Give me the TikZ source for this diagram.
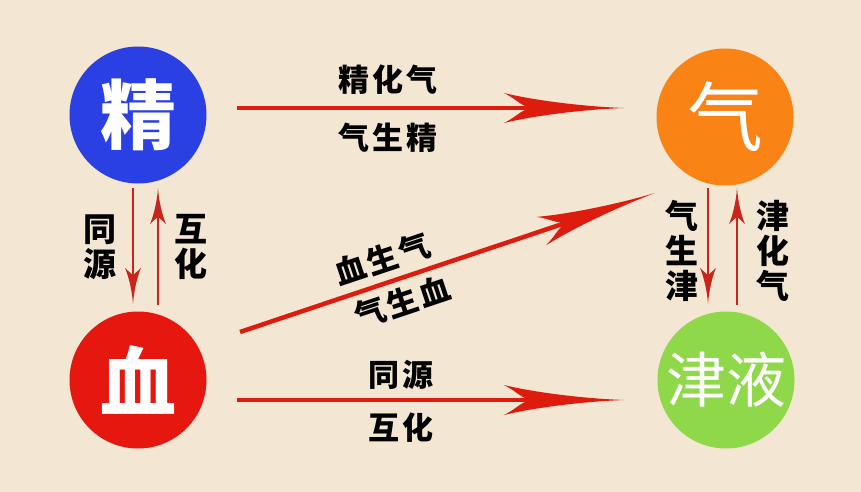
\documentclass[tikz,border=0pt]{standalone}
\usepackage{fontspec}
\newfontfamily\cjk{Noto Sans CJK SC}
\newfontfamily\cjkls{Noto Sans CJK SC}[LetterSpace=9]
\usetikzlibrary{arrows.meta}
\definecolor{bgc}{HTML}{F3E6D3}
\definecolor{cblue}{HTML}{2A40E3}
\definecolor{cred}{HTML}{E6170E}
\definecolor{corange}{HTML}{F98314}
\definecolor{cgreen}{HTML}{8ED84A}
\definecolor{arrred}{HTML}{DE1C0E}
\definecolor{arrdark}{HTML}{C9251B}
\pgfdeclarearrow{
  name = Swoosh,
  parameters = {\the\pgfarrowlength,\the\pgfarrowwidth},
  setup code = {
    \pgfarrowssettipend{0pt}
    \pgfarrowssetlineend{-.6\pgfarrowlength}
    \pgfarrowssavethe\pgfarrowlength
    \pgfarrowssavethe\pgfarrowwidth
    \pgfarrowsupperhullpoint{-\pgfarrowlength}{.5\pgfarrowwidth}
    \pgfarrowshullpoint{0pt}{0pt}
  },
  drawing code = {
    \pgfpathmoveto{\pgfpointorigin}
    \pgfpathcurveto{\pgfqpoint{-.4\pgfarrowlength}{.06\pgfarrowwidth}}{\pgfqpoint{-.8\pgfarrowlength}{.3\pgfarrowwidth}}{\pgfqpoint{-\pgfarrowlength}{.5\pgfarrowwidth}}
    \pgfpathcurveto{\pgfqpoint{-.9\pgfarrowlength}{.3\pgfarrowwidth}}{\pgfqpoint{-.86\pgfarrowlength}{.08\pgfarrowwidth}}{\pgfqpoint{-.78\pgfarrowlength}{0pt}}
    \pgfpathcurveto{\pgfqpoint{-.86\pgfarrowlength}{-.08\pgfarrowwidth}}{\pgfqpoint{-.9\pgfarrowlength}{-.3\pgfarrowwidth}}{\pgfqpoint{-\pgfarrowlength}{-.5\pgfarrowwidth}}
    \pgfpathcurveto{\pgfqpoint{-.8\pgfarrowlength}{-.3\pgfarrowwidth}}{\pgfqpoint{-.4\pgfarrowlength}{-.06\pgfarrowwidth}}{\pgfpointorigin}
    \pgfpathclose
    \pgfusepathqfill
  },
  defaults = {length=40pt, width=12pt}
}
\begin{document}
\begin{tikzpicture}[x=1pt,y=-1pt,
  circ/.style={circle,minimum size=137pt,inner sep=0pt,text=white},
  lbl/.style={font=\cjkls\bfseries\fontsize{31}{35}\selectfont, text=black, inner sep=0pt},
  vlbl/.style={font=\cjk\bfseries\fontsize{33}{35}\selectfont, text=black, inner sep=0pt, align=center},
  bigarr/.style={line width=4.5pt, draw=arrred, -{Swoosh[length=120pt,width=30pt]}},
  smallarr/.style={line width=2.5pt, draw=arrdark, -{Swoosh[length=36pt,width=16pt]}},
]
\fill[bgc] (0,0) rectangle (861,492);
\useasboundingbox (0,0) rectangle (861,492);

\node[circ, fill=cblue, font=\cjk\bfseries\fontsize{76}{76}\selectfont] (jing) at (138,115) {精};
\node[circ, fill=cred, font=\cjk\bfseries\fontsize{76}{76}\selectfont] (xue) at (138,380) {血};
\node[circ, fill=corange, font=\cjk\fontsize{76}{76}\selectfont] (qi) at (725,117) {气};
\node[circ, fill=cgreen, font=\cjk\fontsize{60}{60}\selectfont] (jinye) at (726,380) {津液};

\coordinate (j1) at (237,108);
\coordinate (q1) at (624,108);
\coordinate (x1) at (237,400);
\coordinate (y1) at (624,400);
\coordinate (x2) at (240,332);
\coordinate (q2) at (655,193);
\coordinate (ld1) at (133,188);
\coordinate (ld2) at (133,304);
\coordinate (lu1) at (158,305);
\coordinate (lu2) at (158,188);
\coordinate (rd1) at (708,188);
\coordinate (rd2) at (708,304);
\coordinate (ru1) at (737,305);
\coordinate (ru2) at (737,188);

\draw[bigarr] (j1) -- (q1);
\draw[bigarr] (x1) -- (y1);
\draw[bigarr] (x2) -- (q2);
\draw[smallarr] (ld1) -- (ld2);
\draw[smallarr] (lu1) -- (lu2);
\draw[smallarr] (rd1) -- (rd2);
\draw[smallarr] (ru1) -- (ru2);

\node[lbl] (t1) at (388,80) {精化气};
\node[lbl] (t2) at (388,138) {气生精};
\node[lbl] (t3) at (401,375) {同源};
\node[lbl] (t4) at (401,428) {互化};
\node[lbl, rotate=18.5] (t5) at (382,259) {血生气};
\node[lbl, rotate=18.5] (t6) at (402,302) {气生血};
\node[vlbl] (t7) at (100,247) {同\\源};
\node[vlbl] (t8) at (191,247) {互\\化};
\node[vlbl] (t9) at (682,251) {气\\生\\津};
\node[vlbl] (t10) at (773,251) {津\\化\\气};
\end{tikzpicture}
\end{document}
